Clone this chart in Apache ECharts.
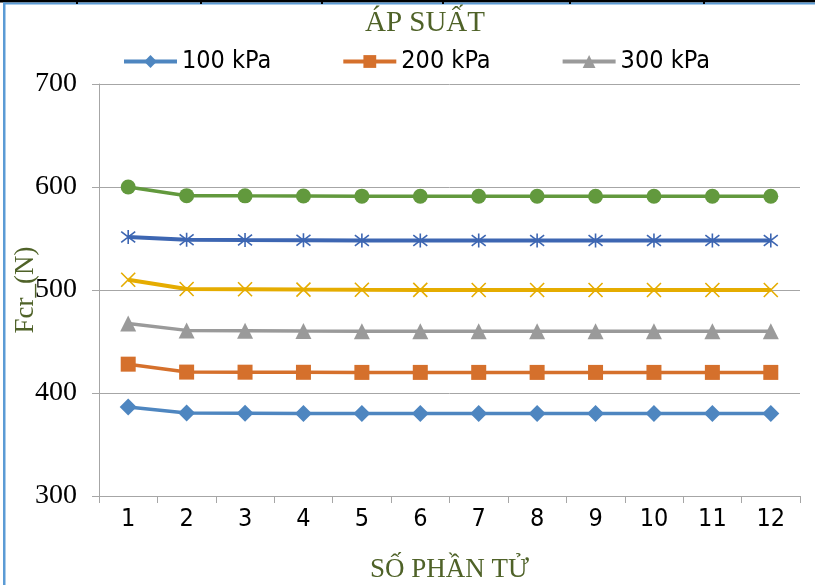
<!DOCTYPE html>
<html>
<head>
<meta charset="utf-8">
<script src="https://cdn.jsdelivr.net/npm/echarts@6/dist/echarts.min.js"></script>
<style>
  html, body { margin: 0; padding: 0; background: #fff; }
  #chart { width: 815px; height: 585px; }
</style>
</head>
<body>
<div id="chart"></div>
<script>
// Number of elements on the x axis
const categories = ['1', '2', '3', '4', '5', '6', '7', '8', '9', '10', '11', '12'];

// Critical force Fcr (N) per pressure level
const p100 = [386.5, 380.6, 380.4, 380.2, 380.1, 380, 380, 380, 380, 380, 380, 380];
const p200 = [428, 420.3, 420.2, 420.1, 420, 420, 420, 420, 420, 420, 420, 420];
const p300 = [467.5, 460.8, 460.5, 460.2, 460, 460, 460, 460, 460, 460, 460, 460];
const p400 = [510, 501, 500.7, 500.4, 500.2, 500.1, 500, 500, 500, 500, 500, 500];
const p500 = [551.5, 548.8, 548.5, 548.3, 548.1, 548, 548, 548, 548, 548, 548, 548];
const p600 = [600, 591.6, 591.4, 591.3, 591.1, 591, 591, 591, 591, 591, 591, 591];

const yTicks = { min: 300, max: 700, step: 100 };
const yTitle = 'Fcr_(N)';

const serif = '"Liberation Serif", "DejaVu Serif", serif';
const narrow = '"DejaVu Sans Condensed", "Liberation Sans Narrow", "DejaVu Sans", sans-serif';
const green = '#4F6228';
const axisGray = '#A6A6A6';

const crossPath = 'path://M0,0L10,10M10,0L0,10';
const starPath = 'path://M0,0L10,10M10,0L0,10M5,-1.5L5,11.5';

function filled(name, data, color, symbol, size) {
  return {
    name, type: 'line', data, symbol, symbolSize: size,
    lineStyle: { color, width: 3.5 },
    itemStyle: { color },
    emphasis: { disabled: true },
    animation: false
  };
}
function stroked(name, data, color, symbol, size) {
  return {
    name, type: 'line', data, symbol, symbolSize: size,
    lineStyle: { color, width: 4 },
    itemStyle: { color: 'rgba(0,0,0,0)', borderColor: color, borderWidth: 1.6 },
    emphasis: { disabled: true },
    animation: false
  };
}

const chart = echarts.init(document.getElementById('chart'), null, { renderer: 'canvas' });
chart.setOption({
  backgroundColor: '#fff',
  title: {
    text: 'ÁP SUẤT',
    left: 420, top: 4, textAlign: 'center',
    textStyle: { fontFamily: serif, fontSize: 29, fontWeight: 'normal', color: green }
  },
  legend: {
    data: ['100 kPa', '200 kPa', '300 kPa'],
    top: 44, left: 117,
    itemWidth: 53, itemHeight: 16, itemGap: 70,
    lineStyle: { width: 4 },
    textStyle: { fontFamily: narrow, fontSize: 25, color: '#000' }
  },
  grid: { left: 99, right: 15, top: 84, bottom: 89, containLabel: false, outerBoundsMode: 'none' },
  xAxis: {
    type: 'category', data: categories, boundaryGap: true,
    name: 'SỐ PHẦN TỬ', nameLocation: 'middle', nameGap: 60,
    nameTextStyle: { fontFamily: serif, fontSize: 27, color: green },
    axisLine: { lineStyle: { color: axisGray, width: 1 } },
    axisTick: { show: true, length: 7, lineStyle: { color: axisGray } },
    axisLabel: { fontFamily: narrow, fontSize: 25, color: '#000', margin: 11 }
  },
  yAxis: {
    type: 'value', min: yTicks.min, max: yTicks.max, interval: yTicks.step,
    axisLine: { show: true, lineStyle: { color: axisGray, width: 1 } },
    axisTick: { show: true, length: 7, lineStyle: { color: axisGray } },
    axisLabel: { fontFamily: serif, fontSize: 28, color: '#000', margin: 22 },
    splitLine: { lineStyle: { color: axisGray, width: 1 } }
  },
  series: [
    filled('100 kPa', p100, '#4E86C0', 'diamond', 17),
    filled('200 kPa', p200, '#D5702C', 'rect', 15),
    filled('300 kPa', p300, '#9A9A9A', 'triangle', 16),
    stroked('400 kPa', p400, '#E5AC00', crossPath, 14),
    stroked('500 kPa', p500, '#3D66B2', starPath, 14),
    filled('600 kPa', p600, '#62993D', 'circle', 15)
  ],
  graphic: [
    // y-axis title, rotated beside the value labels
    {
      type: 'text', x: 26, y: 290, rotation: Math.PI / 2, silent: true,
      style: { text: yTitle, fontFamily: serif, fontSize: 27, fill: green, align: 'center', verticalAlign: 'middle' }
    },
    // page edges around the chart box
    { type: 'rect', shape: { x: 0, y: 0, width: 815, height: 2.5 }, style: { fill: '#000' }, silent: true },
    { type: 'rect', shape: { x: 3, y: 2.5, width: 812, height: 2 }, style: { fill: '#5B9BD5' }, silent: true },
    { type: 'rect', shape: { x: 3, y: 2.5, width: 2.5, height: 583 }, style: { fill: '#5B9BD5' }, silent: true },
    ...[77, 201, 322, 443, 570, 704].map(x => ({
      type: 'rect', shape: { x: x - 1, y: 0, width: 2, height: 4 }, style: { fill: '#000' }, silent: true
    }))
  ]
});
</script>
</body>
</html>
